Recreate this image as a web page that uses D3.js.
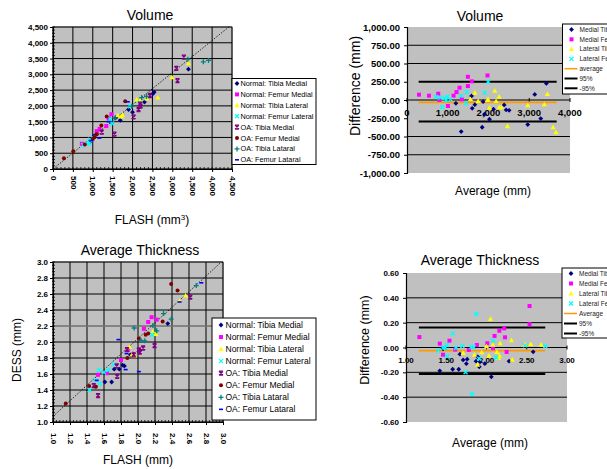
<!DOCTYPE html>
<html>
<head>
<meta charset="utf-8">
<script src="https://cdn.jsdelivr.net/npm/d3@7"></script>
<style>
body { margin: 0; background: #fff; }
text { font-family: "Liberation Sans", Arial, sans-serif; }
</style>
</head>
<body>
<div id="chart"></div>
<script>
// series names
const scatterNames = ["Normal: Tibia Medial", "Normal: Femur Medial", "Normal: Tibia Lateral", "Normal: Femur Lateral",
  "OA: Tibia Medial", "OA: Femur Medial", "OA: Tibia Lataral", "OA: Femur Lataral"];
const baNames = ["Medial Tibia", "Medial Femur", "Lateral Tibia", "Lateral Femur"];

// Volume, FLASH (x) vs DESS (y)
const normTibMedVol = [[3405,3165],[2545,2435],[2505,2380],[2300,2120],[1900,1885],[2000,1800],[1690,1545],[1580,1625],[1480,1480],[1080,1090],[1020,1035],[940,880]];
const normFemMedVol = [[725,800],[1100,1200],[1170,1270],[1340,1360],[1400,1600],[1470,1735]];
const normTibLatVol = [[3405,3350],[2990,2905],[2635,2265],[2105,2200],[2190,2180],[2360,2235],[1745,1715],[1720,1660],[1630,1700]];
const normFemLatVol = [[865,800],[915,820],[935,925],[1000,1000],[1435,1585],[1485,1440],[1940,1990],[2175,2095],[760,760]];
const oaTibMedVol = [[3290,3545],[3100,3190],[3130,2800],[1545,1105],[2025,1650],[2150,1885],[2190,2055],[2435,2330],[1225,1170],[2200,1990]];
const oaFemMedVol = [[275,340],[510,565],[800,775],[1040,1010],[1215,1375],[1350,1660],[1815,2150],[1100,1100],[1000,950]];
const oaTibLatVol = [[3910,3440],[3780,3395],[3390,3480],[1980,1990],[2230,2265],[1560,1615],[2350,2300]];
const oaFemLatVol = [[1880,2130],[1165,980],[960,900],[1400,1500]];

// Volume, Bland-Altman (average, difference)
const medTibVolBA = [[1330,-432],[1845,-373],[1200,-45],[1584,55],[1600,-114],[1665,-64],[1869,-23],[1902,-195],[2024,-264],[2122,-127],[2384,-68],[2433,-136],[2506,-141],[2963,-336],[3135,77],[3282,-255],[3420,227]];
const medFemVolBA = [[294,73],[539,59],[767,86],[792,0],[1004,-82],[1143,59],[1216,109],[1290,168],[1347,9],[1494,191],[1494,318],[1592,255],[1975,336]];
const latTibVolBA = [[1559,14],[1665,100],[1747,-14],[1975,0],[2024,-105],[2155,127],[2188,-14],[2261,45],[2261,-100],[2318,-100],[2465,-359],[2963,-73],[3371,-59],[3445,82],[3584,-373],[3657,-441],[1990,10]];
const latFemVolBA = [[710,41],[816,32],[865,-100],[922,23],[963,0],[988,45],[1069,9],[1322,59],[1445,-45],[1469,109],[1910,100],[1992,250]];
const volLimits = { avg: -32, upper: 250, lower: -295, from: 286, to: 3673 };

// Average thickness, FLASH (x) vs DESS (y)
const normTibMedTh = [[1.61,1.50],[1.69,1.50],[1.72,1.66],[1.78,1.66],[1.82,1.71],[1.84,1.70],[1.91,1.84],[1.94,1.85],[2.02,1.89],[2.35,2.23]];
const normFemMedTh = [[1.53,1.59],[1.635,1.61],[1.80,1.775],[1.88,1.90],[2.07,2.165],[2.12,2.25],[2.16,2.31],[2.22,2.28]];
const normTibLatTh = [[1.90,1.94],[1.93,1.845],[1.96,1.83],[2.175,2.13],[2.21,2.10],[2.49,2.515],[2.56,2.58]];
const normFemLatTh = [[1.43,1.40],[1.50,1.52],[1.54,1.65],[1.55,1.48],[1.65,1.65],[1.71,1.72],[2.165,2.09],[1.60,1.62]];
const oaTibMedTh = [[1.53,1.33],[1.48,1.455],[1.755,1.57],[1.75,1.70],[1.87,1.905],[1.95,1.84],[2.02,1.875],[2.06,1.925],[2.195,1.955],[2.615,2.56],[2.01,1.90]];
const oaFemMedTh = [[1.15,1.23],[1.425,1.45],[1.505,1.44],[1.875,1.80],[2.01,2.045],[2.09,2.09],[2.12,2.105],[2.29,2.255],[2.39,2.725],[2.465,2.645]];
const oaTibLatTh = [[1.955,2.175],[2.035,2.02],[2.08,2.015],[2.175,2.205],[2.22,2.14],[2.30,2.355],[2.39,2.285],[2.685,2.705]];
const oaFemLatTh = [[1.77,2.03],[1.865,1.855],[1.855,1.655],[2.01,1.63],[1.515,1.52],[2.49,2.50],[2.745,2.74]];

// Average thickness, Bland-Altman
const medTibThBA = [[1.42,-0.188],[1.46,-0.01],[1.58,-0.175],[1.655,-0.175],[1.67,-0.054],[1.71,-0.10],[1.75,-0.13],[1.76,-0.094],[1.87,-0.11],[1.89,-0.075],[1.91,-0.156],[1.92,-0.115],[1.98,-0.13],[2.06,-0.236],[2.28,-0.11],[2.58,-0.035]];
const medFemThBA = [[1.166,0.084],[1.42,0.031],[1.46,-0.058],[1.54,0.055],[1.61,-0.017],[1.78,-0.02],[1.88,0.02],[2.01,0.034],[2.08,-0.005],[2.10,0.093],[2.16,0.135],[2.22,0.154],[2.23,0.082],[2.25,-0.036],[2.535,0.187],[2.535,0.334]];
const latTibThBA = [[1.71,-0.044],[1.85,-0.058],[1.89,-0.138],[1.94,-0.039],[2.0,0.01],[2.03,-0.066],[2.05,0.23],[2.08,0.023],[2.13,-0.036],[2.15,-0.085],[2.16,-0.066],[2.17,0.034],[2.31,0.058],[2.32,-0.098],[2.48,0.023],[2.55,0.028],[2.68,0.023]];
const latFemThBA = [[1.40,-0.025],[1.46,-0.004],[1.49,0.0],[1.51,0.02],[1.58,0.114],[1.62,-0.004],[1.70,0.012],[1.74,-0.20],[1.81,0.004],[1.84,0.004],[1.875,0.27],[1.82,-0.375],[1.91,-0.09],[2.08,0.055],[2.12,-0.08],[2.48,0.017],[2.73,0.01],[1.51,-0.07]];
const thLimits = { avg: -0.025, upper: 0.162, lower: -0.213, from: 1.16, to: 2.73 };

const markers = ["diamond", "square", "triangle", "cross", "star", "circle", "plus", "dash"];
const colors = ["#000080", "#FF00FF", "#FFFF00", "#00FFFF", "#800080", "#800000", "#008080", "#0000FF"];

const svg = d3.select("#chart").append("svg")
  .attr("width", 607)
  .attr("height", 469)
  .style("display", "block");

function marker(g, kind, color, x, y) {
  if (kind == "diamond") {
    g.append("path").attr("d", "M0,-2.4L2.4,0L0,2.4L-2.4,0Z").attr("fill", color).attr("transform", `translate(${x},${y})`);
  } else if (kind == "square") {
    g.append("rect").attr("x", x - 2).attr("y", y - 2).attr("width", 4).attr("height", 4).attr("fill", color);
  } else if (kind == "triangle") {
    g.append("path").attr("d", "M0,-2.6L2.6,2L-2.6,2Z").attr("fill", color).attr("transform", `translate(${x},${y})`);
  } else if (kind == "circle") {
    g.append("circle").attr("cx", x).attr("cy", y).attr("r", 2).attr("fill", color);
  } else if (kind == "dash") {
    g.append("rect").attr("x", x - 2).attr("y", y - 0.8).attr("width", 4).attr("height", 1.6).attr("fill", color);
  } else {
    const d = kind == "cross" ? "M-2,-2L2,2M-2,2L2,-2"
      : kind == "star" ? "M-2,-2L2,2M-2,2L2,-2M-2,-2L2,-2M-2,2L2,2"
      : "M-2.5,0L2.5,0M0,-2.5L0,2.5";
    g.append("path").attr("d", d).attr("fill", "none").attr("stroke", color).attr("stroke-width", 1.3)
      .attr("transform", `translate(${x},${y})`);
  }
}

function scatterPanel(o) {
  const x = d3.scaleLinear().domain(o.domain).range([o.left, o.right]);
  const y = d3.scaleLinear().domain(o.domain).range([o.bottom, o.top]);
  const majors = d3.range(o.domain[0], o.domain[1] + o.step / 2, o.step);
  const minors = d3.range(o.domain[0], o.domain[1] + o.step / 10, o.step / 5);

  svg.append("rect").attr("x", o.left).attr("y", o.top)
    .attr("width", o.right - o.left).attr("height", o.bottom - o.top)
    .attr("fill", "#C0C0C0").attr("stroke", "#808080");

  svg.append("g").selectAll("line").data(majors).enter().append("line")
    .attr("x1", d => x(d)).attr("x2", d => x(d)).attr("y1", o.top).attr("y2", o.bottom)
    .attr("stroke", "#000");
  svg.append("g").selectAll("line").data(majors).enter().append("line")
    .attr("x1", o.left).attr("x2", o.right).attr("y1", d => y(d)).attr("y2", d => y(d))
    .attr("stroke", d => o.greyLine !== undefined && Math.abs(d - o.greyLine) < 1e-6 ? "#707070" : "#000");
  if (o.greyLine !== undefined) {
    svg.append("line").attr("x1", o.left).attr("x2", o.legend.x).attr("y1", y(o.greyLine)).attr("y2", y(o.greyLine))
      .attr("stroke", "#707070");
  }

  // minor ticks
  svg.append("g").selectAll("line").data(minors).enter().append("line")
    .attr("x1", o.left - 1).attr("x2", o.left + 2).attr("y1", d => y(d)).attr("y2", d => y(d))
    .attr("stroke", "#000").attr("stroke-width", 0.8);
  svg.append("g").selectAll("line").data(minors).enter().append("line")
    .attr("x1", d => x(d)).attr("x2", d => x(d)).attr("y1", o.bottom - 2).attr("y2", o.bottom + 1)
    .attr("stroke", "#000").attr("stroke-width", 0.8);

  // fit line
  svg.append("line")
    .attr("x1", x(o.fit[0][0])).attr("y1", y(o.fit[0][1]))
    .attr("x2", x(o.fit[1][0])).attr("y2", y(o.fit[1][1]))
    .attr("stroke", "#000").attr("stroke-width", 0.8).attr("stroke-dasharray", "1.5,1.5");

  o.series.forEach((s, i) => {
    const g = svg.append("g");
    s.forEach(p => marker(g, markers[i], colors[i], x(p[0]), y(p[1])));
  });

  const ya = svg.append("g")
    .attr("transform", `translate(${o.left},0)`)
    .call(d3.axisLeft(y).tickValues(majors).tickFormat(o.fmt).tickSize(3).tickPadding(2));
  ya.selectAll("text").attr("font-size", 8).attr("font-weight", "bold").attr("fill", "#000");
  ya.select(".domain").attr("stroke", "#000");

  const xa = svg.append("g")
    .attr("transform", `translate(0,${o.bottom})`)
    .call(d3.axisBottom(x).tickValues(majors).tickFormat(o.fmt).tickSize(3));
  xa.select(".domain").attr("stroke", "#000");
  xa.selectAll("text")
    .attr("font-size", 8).attr("font-weight", "bold").attr("fill", "#000")
    .attr("transform", "rotate(90)")
    .attr("x", o.xLabelGap).attr("y", 0).attr("dy", "0.35em")
    .attr("text-anchor", "start");

  svg.append("text").attr("x", o.titleX).attr("y", o.titleY).attr("text-anchor", "middle")
    .attr("font-size", 14).text(o.title);
  const xt = svg.append("text").attr("x", o.xTitleX).attr("y", o.xTitleY).attr("text-anchor", "middle")
    .attr("font-size", 12).text(o.xTitle);
  if (o.sup) {
    xt.append("tspan").attr("font-size", 8).attr("dy", -4).text(o.sup);
    xt.append("tspan").attr("dy", 4).text(")");
  }
  if (o.yTitle) {
    svg.append("text").attr("transform", `translate(${o.yTitleX},${o.yTitleY}) rotate(-90)`)
      .attr("text-anchor", "middle").attr("font-size", 12).text(o.yTitle);
  }

  const L = o.legend;
  svg.append("rect").attr("x", L.x).attr("y", L.y).attr("width", L.w).attr("height", L.h)
    .attr("fill", "#fff").attr("stroke", "#000");
  scatterNames.forEach((name, i) => {
    const ry = L.y + L.first + i * L.gap;
    marker(svg, markers[i], colors[i], L.x + L.mx, ry);
    svg.append("text").attr("x", L.x + L.tx).attr("y", ry).attr("dy", "0.35em")
      .attr("font-size", L.fs).text(name);
  });
}

function baPanel(o) {
  const x = d3.scaleLinear().domain(o.xDomain).range([o.left, o.right]);
  const y = d3.scaleLinear().domain(o.yDomain).range([o.bottom, o.top]);

  svg.append("rect").attr("x", o.left).attr("y", o.top)
    .attr("width", o.right - o.left).attr("height", o.bottom - o.top)
    .attr("fill", "#C0C0C0");

  svg.append("g").selectAll("line").data(o.grid).enter().append("line")
    .attr("x1", o.left).attr("x2", o.right).attr("y1", d => y(d)).attr("y2", d => y(d))
    .attr("stroke", "#000");

  const lim = o.limits;
  svg.append("line").attr("x1", x(lim.from)).attr("x2", x(lim.to)).attr("y1", y(lim.upper)).attr("y2", y(lim.upper))
    .attr("stroke", "#000").attr("stroke-width", 2);
  svg.append("line").attr("x1", x(lim.from)).attr("x2", x(lim.to)).attr("y1", y(lim.lower)).attr("y2", y(lim.lower))
    .attr("stroke", "#000").attr("stroke-width", 2);

  // zero axis
  svg.append("line").attr("x1", o.left).attr("x2", o.right).attr("y1", y(0)).attr("y2", y(0))
    .attr("stroke", "#000").attr("stroke-width", 1.2);
  svg.append("g").selectAll("line").data(o.xTicks).enter().append("line")
    .attr("x1", d => x(d)).attr("x2", d => x(d)).attr("y1", y(0) - 2).attr("y2", y(0) + 2)
    .attr("stroke", "#000");
  svg.append("g").selectAll("text").data(o.xTicks).enter().append("text")
    .attr("x", d => x(d)).attr("y", y(0) + 13).attr("dy", "0.35em").attr("text-anchor", "middle")
    .attr("font-size", o.tickSize).attr("font-weight", "bold").text(o.xFmt);

  svg.append("line").attr("x1", x(lim.from)).attr("x2", x(lim.to)).attr("y1", y(lim.avg)).attr("y2", y(lim.avg))
    .attr("stroke", "#FF9900").attr("stroke-width", 1.6);

  o.series.forEach((s, i) => {
    const g = svg.append("g");
    s.forEach(p => marker(g, markers[i], colors[i], x(p[0]), y(p[1])));
  });

  const ya = svg.append("g")
    .attr("transform", `translate(${o.left},0)`)
    .call(d3.axisLeft(y).tickValues(o.yTicks).tickFormat(d => d3.format(o.yFmt)(d).replace("\u2212", "-")).tickSize(3).tickPadding(4));
  ya.selectAll("text").attr("font-size", o.tickSize).attr("font-weight", "bold").attr("fill", "#000");
  ya.select(".domain").attr("stroke", "#000").attr("stroke-width", 1.2);

  svg.append("text").attr("x", o.titleX).attr("y", o.titleY).attr("text-anchor", "middle")
    .attr("font-size", 14).text(o.title);
  svg.append("text").attr("x", o.xTitleX).attr("y", o.xTitleY).attr("text-anchor", "middle")
    .attr("font-size", 12).text("Average (mm)");
  svg.append("text").attr("transform", `translate(${o.yTitleX},${o.yTitleY}) rotate(-90)`)
    .attr("text-anchor", "middle").attr("font-size", o.yTitleSize).text("Difference (mm)");

  const L = o.legend;
  svg.append("rect").attr("x", L.x).attr("y", L.y).attr("width", 80).attr("height", L.h)
    .attr("fill", "#fff").attr("stroke", "#000");
  const labels = baNames.concat([o.avgLabel, "95%", "-95%"]);
  labels.forEach((name, i) => {
    const ry = L.y + L.first + i * L.gap;
    if (i < 4) marker(svg, markers[i], colors[i], L.x + 9, ry);
    else svg.append("line").attr("x1", L.x + 2).attr("x2", L.x + 15).attr("y1", ry).attr("y2", ry)
      .attr("stroke", i == 4 ? "#FF9900" : "#000").attr("stroke-width", i == 4 ? 1.5 : 2);
    svg.append("text").attr("x", L.x + 17).attr("y", ry).attr("dy", "0.35em")
      .attr("font-size", 6.5).attr("fill", "#222").text(name);
  });
}

scatterPanel({
  left: 53, right: 232, top: 27, bottom: 169,
  domain: [0, 4500], step: 500, fmt: d3.format(","),
  series: [normTibMedVol, normFemMedVol, normTibLatVol, normFemLatVol, oaTibMedVol, oaFemMedVol, oaTibLatVol, oaFemLatVol],
  fit: [[0, 0], [4420, 4500]],
  xLabelGap: 7,
  title: "Volume", titleX: 150, titleY: 20,
  xTitle: "FLASH (mm", sup: "3", xTitleX: 152, xTitleY: 224,
  legend: { x: 232, y: 78.5, w: 84, h: 86, first: 5, gap: 10.9, mx: 5, tx: 8.5, fs: 7.3 }
});

baPanel({
  left: 407, right: 570, top: 27, bottom: 173,
  xDomain: [0, 4000], yDomain: [-1000, 1000],
  grid: [750, 500, -500, -750],
  yTicks: d3.range(-1000, 1001, 250), yFmt: ",.2f",
  xTicks: [0, 1000, 2000, 3000, 4000], xFmt: d3.format(","),
  tickSize: 9.5,
  limits: volLimits,
  series: [medTibVolBA, medFemVolBA, latTibVolBA, latFemVolBA],
  title: "Volume", titleX: 480, titleY: 21,
  xTitleX: 493, xTitleY: 195,
  yTitleX: 360, yTitleY: 86, yTitleSize: 14,
  avgLabel: "average",
  legend: { x: 562.5, y: 24, h: 70, first: 5.5, gap: 9.8 }
});

scatterPanel({
  left: 53, right: 223, top: 262, bottom: 422,
  domain: [1.0, 3.0], step: 0.2, fmt: d3.format(".1f"),
  series: [normTibMedTh, normFemMedTh, normTibLatTh, normFemLatTh, oaTibMedTh, oaFemMedTh, oaTibLatTh, oaFemLatTh],
  fit: [[1.0, 1.07], [2.98, 3.0]],
  greyLine: 2.2,
  xLabelGap: 11,
  title: "Average Thickness", titleX: 140, titleY: 255,
  xTitle: "FLASH (mm)", xTitleX: 138, xTitleY: 464,
  yTitle: "DESS (mm)", yTitleX: 21, yTitleY: 350,
  legend: { x: 212, y: 318, w: 104, h: 102, first: 7, gap: 12.05, mx: 9, tx: 13.5, fs: 8.5 }
});

baPanel({
  left: 406, right: 567, top: 273, bottom: 422,
  xDomain: [1.0, 3.0], yDomain: [-0.6, 0.6],
  grid: [0.4, 0.2, -0.2, -0.4],
  yTicks: d3.range(-0.6, 0.61, 0.2), yFmt: ".2f",
  xTicks: [1.0, 1.5, 2.0, 2.5, 3.0], xFmt: d3.format(".2f"),
  tickSize: 8,
  limits: thLimits,
  series: [medTibThBA, medFemThBA, latTibThBA, latFemThBA],
  title: "Average Thickness", titleX: 480, titleY: 265,
  xTitleX: 490, xTitleY: 447,
  yTitleX: 369, yTitleY: 340, yTitleSize: 12.5,
  avgLabel: "Average",
  legend: { x: 562, y: 268, h: 70, first: 5.5, gap: 10 }
});
</script>
</body>
</html>
